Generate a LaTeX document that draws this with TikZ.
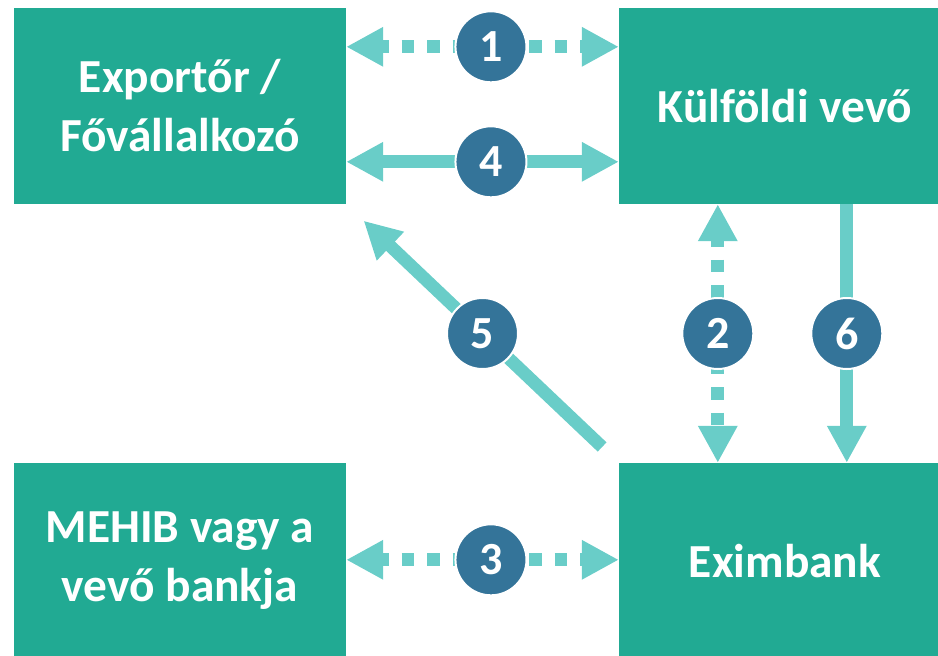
\documentclass[tikz,border=0pt]{standalone}
\usepackage{fontspec}
\setmainfont{Carlito}
\usetikzlibrary{arrows.meta}
\definecolor{boxc}{HTML}{21AA93}
\definecolor{arrc}{HTML}{69CDC8}
\definecolor{numc}{HTML}{347499}
\begin{document}
\begin{tikzpicture}[x=1pt,y=-1pt,
  box/.style={fill=boxc, minimum width=332pt, minimum height=196pt, inner sep=0pt,
    text=white, font=\bfseries\fontsize{47.4}{59}\selectfont, align=center},
  num/.style={circle, solid, fill=numc, draw=white, line width=2pt, minimum size=71pt,
    inner sep=0pt, text=white, font=\bfseries\fontsize{46}{52}\selectfont},
  arr/.style={draw=arrc, line width=12.75pt},
  dbl/.style={{Triangle[length=37pt,width=37pt]}-{Triangle[length=37pt,width=37pt]}},
  sgl/.style={-{Triangle[length=37pt,width=37pt]}},
  dots/.style={dash pattern=on 12.75pt off 12.75pt, dash phase=4.75pt}]
\clip (0,0) rectangle (938,656);
\node[box] (tl) at (180,106) {Exportőr /\\Fővállalkozó};
\node[box] (tr) at (785,106) {Külföldi vevő};
\node[box] (bl) at (180,561) {MEHIB vagy a\\vevő bankja};
\node[box] (br) at (785,561) {Eximbank};
\draw[arr,dbl,dots] ([yshift=-39pt]tl.north east) -- node[num,pos=0.531]{1} ([yshift=-39pt]tr.north west);
\draw[arr,dbl] ([yshift=-154pt]tl.north east) -- node[num,pos=0.531]{4} ([yshift=-154pt]tr.north west);
\draw[arr,dbl,dots] ([yshift=-97pt]bl.north east) -- node[num,pos=0.531]{3} ([yshift=-97pt]br.north west);
\draw[arr,dbl,dots] ([xshift=99pt]tr.south west) -- node[num]{2} ([xshift=99pt]br.north west);
\draw[arr,sgl] ([xshift=228pt]tr.south west) -- node[num]{6} ([xshift=228pt]br.north west);
\draw[arr,sgl,shorten <=23pt,shorten >=24pt] (br.north west) -- node[num]{5} (tl.south east);
\end{tikzpicture}
\end{document}
